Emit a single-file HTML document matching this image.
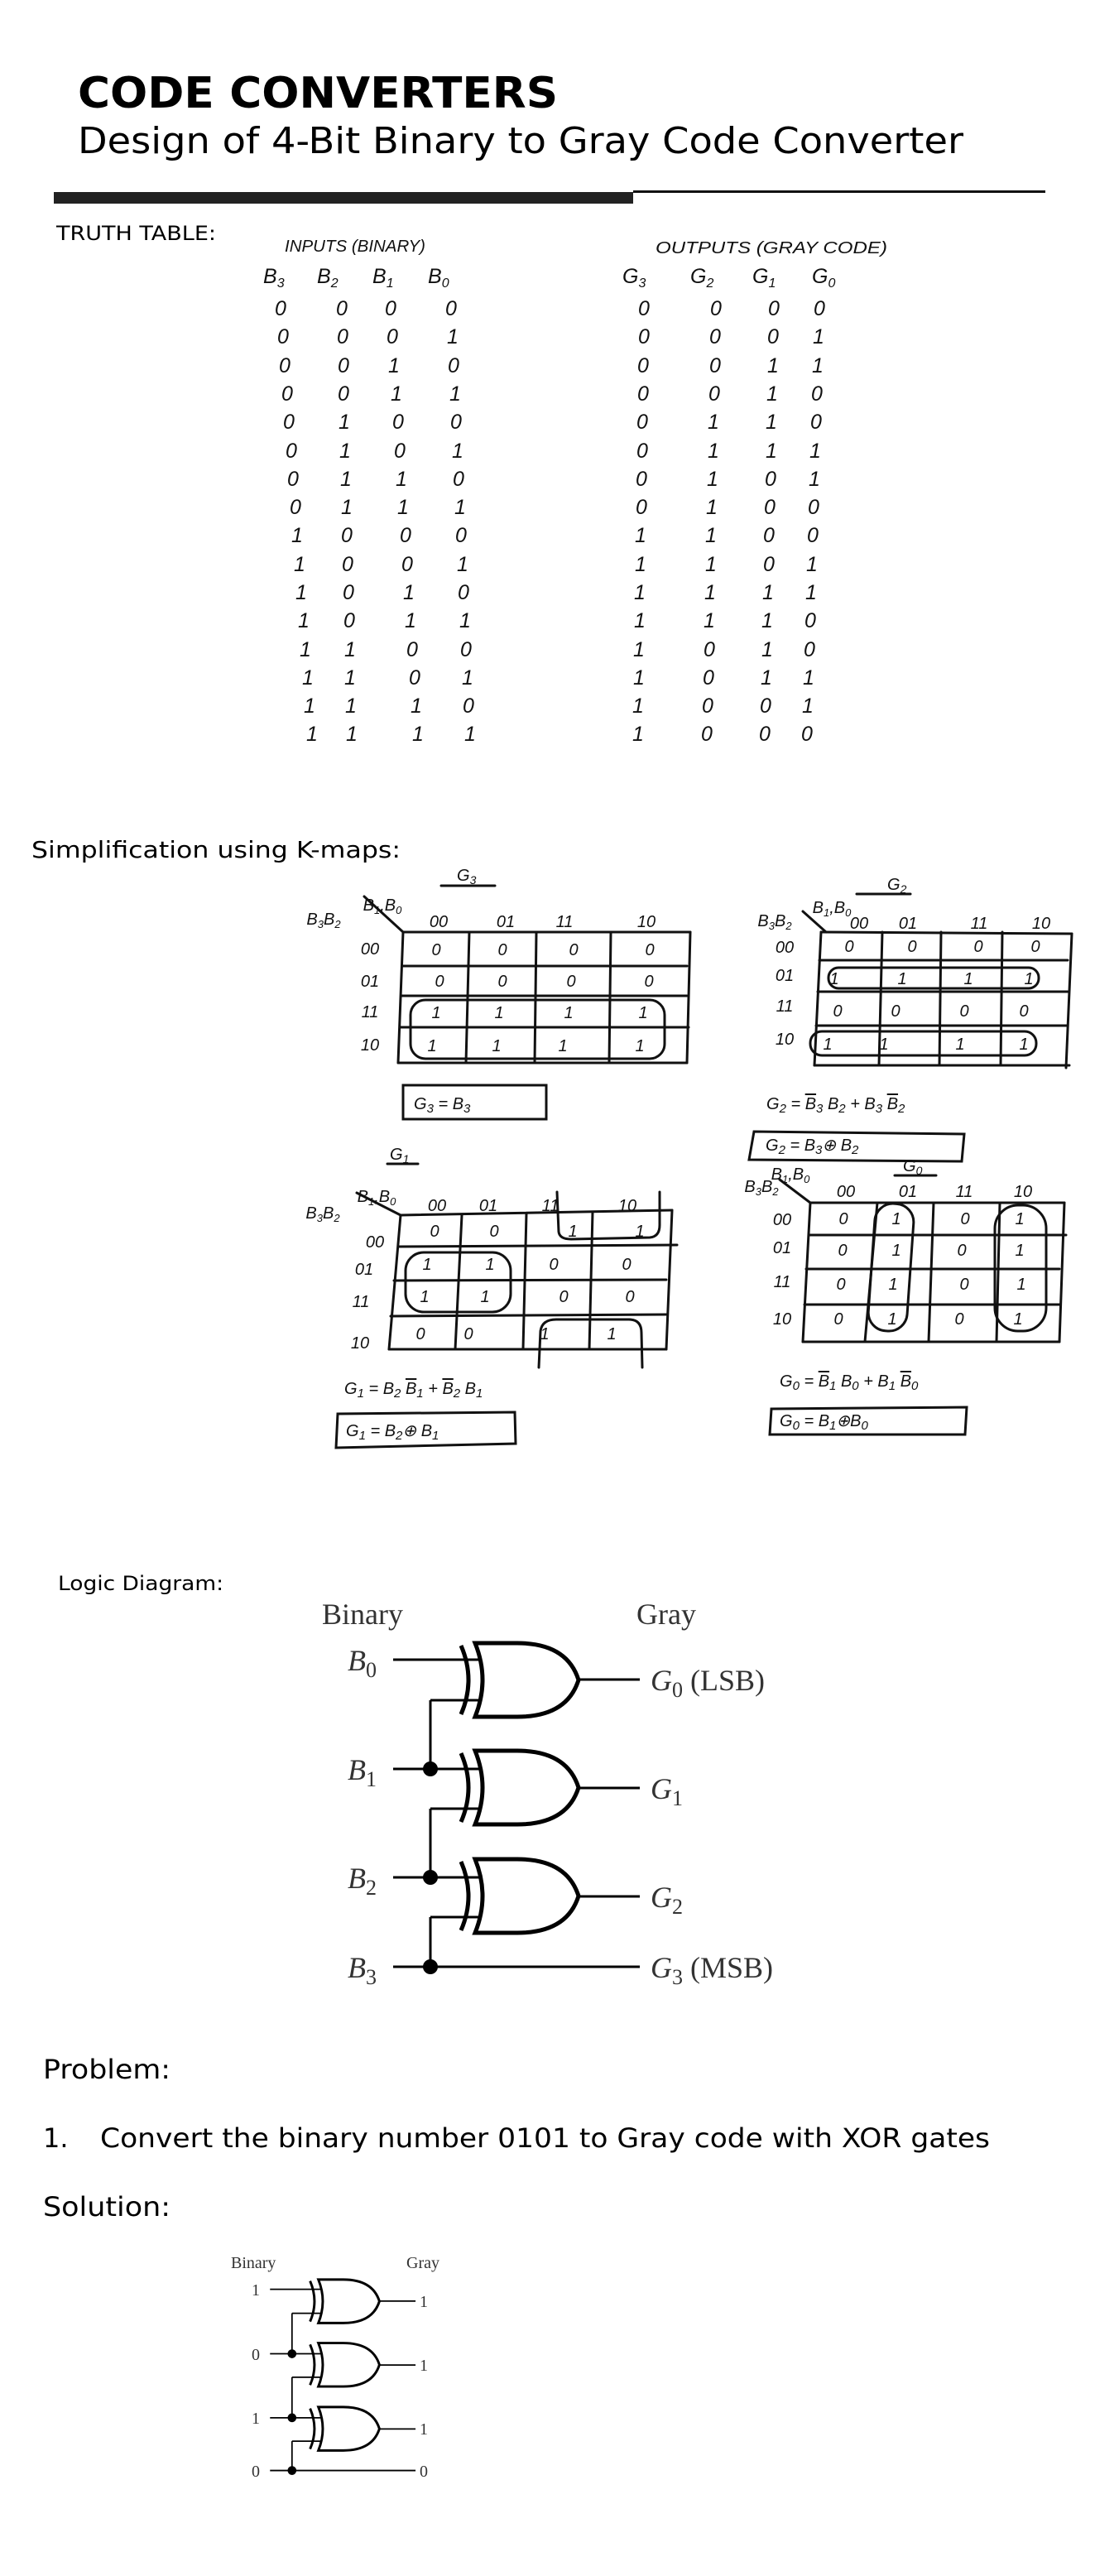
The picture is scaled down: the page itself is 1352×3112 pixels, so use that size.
<!DOCTYPE html>
<html><head><meta charset="utf-8"><style>
html,body{margin:0;padding:0;background:#fff}
svg{display:block}
.s{font-family:"DejaVu Sans","Liberation Sans",sans-serif;fill:#000}
.h{font-family:"Liberation Sans",sans-serif;font-style:italic;fill:#111;font-size:25px}
.hs{font-family:"Liberation Sans",sans-serif;font-style:italic;fill:#111;font-size:20px}
.t{font-family:"Liberation Serif",serif;fill:#333}
.ti{font-family:"Liberation Serif",serif;font-style:italic;fill:#333}
.g line,.g path,.g rect{stroke:#111;fill:none;stroke-width:3;stroke-linecap:round}
</style></head><body>
<svg width="1352" height="3112" viewBox="0 0 1352 3112" xmlns="http://www.w3.org/2000/svg">
<!-- Header -->
<text class="s" x="94" y="130" font-size="52" font-weight="bold" textLength="580" lengthAdjust="spacingAndGlyphs">CODE CONVERTERS</text>
<text class="s" x="94" y="185" font-size="44" textLength="1070" lengthAdjust="spacingAndGlyphs">Design of 4-Bit Binary to Gray Code Converter</text>
<rect x="65" y="232" width="700" height="14" fill="#222"/>
<rect x="765" y="230" width="498" height="3" fill="#111"/>
<text class="s" x="68" y="290" font-size="24" textLength="193" lengthAdjust="spacingAndGlyphs">TRUTH TABLE:</text>

<!-- Truth table -->
<text class="hs" x="344" y="304" textLength="170" lengthAdjust="spacingAndGlyphs">INPUTS (BINARY)</text>
<text class="hs" x="792" y="306" textLength="280" lengthAdjust="spacingAndGlyphs">OUTPUTS (GRAY CODE)</text>
<text class="h" x="318" y="342">B<tspan font-size="16" dy="5">3</tspan></text>
<text class="h" x="383" y="342">B<tspan font-size="16" dy="5">2</tspan></text>
<text class="h" x="450" y="342">B<tspan font-size="16" dy="5">1</tspan></text>
<text class="h" x="517" y="342">B<tspan font-size="16" dy="5">0</tspan></text>
<text class="h" x="752" y="342">G<tspan font-size="16" dy="5">3</tspan></text>
<text class="h" x="834" y="342">G<tspan font-size="16" dy="5">2</tspan></text>
<text class="h" x="909" y="342">G<tspan font-size="16" dy="5">1</tspan></text>
<text class="h" x="981" y="342">G<tspan font-size="16" dy="5">0</tspan></text>
<g class="h" text-anchor="middle">
<text x="339 413 472 545" y="381">0000</text><text x="778 865 935 990" y="381">0000</text>
<text x="342 414 474 547" y="415">0001</text><text x="778 864 934 989" y="415">0001</text>
<text x="344 415 476 548" y="450">0010</text><text x="777 864 934 988" y="450">0011</text>
<text x="347 415 479 550" y="484">0011</text><text x="777 863 933 987" y="484">0010</text>
<text x="349 416 481 551" y="518">0100</text><text x="776 862 932 986" y="518">0110</text>
<text x="352 417 483 553" y="553">0101</text><text x="776 862 932 985" y="553">0111</text>
<text x="354 418 485 554" y="587">0110</text><text x="775 861 931 984" y="587">0101</text>
<text x="357 419 487 556" y="621">0111</text><text x="775 860 930 983" y="621">0100</text>
<text x="359 419 490 557" y="655">1000</text><text x="774 859 929 982" y="655">1100</text>
<text x="362 420 492 559" y="690">1001</text><text x="774 859 929 981" y="690">1101</text>
<text x="364 421 494 560" y="724">1010</text><text x="773 858 928 980" y="724">1111</text>
<text x="367 422 496 562" y="758">1011</text><text x="773 857 927 979" y="758">1110</text>
<text x="369 423 498 563" y="793">1100</text><text x="772 857 927 978" y="793">1010</text>
<text x="372 423 501 565" y="827">1101</text><text x="772 856 926 977" y="827">1011</text>
<text x="374 424 503 566" y="861">1110</text><text x="771 855 925 976" y="861">1001</text>
<text x="377 425 505 568" y="895">1111</text><text x="771 854 924 975" y="895">1000</text>
</g>

<text class="s" x="38" y="1036" font-size="28" textLength="446" lengthAdjust="spacingAndGlyphs">Simplification using K-maps:</text>

<!-- K-map G3 -->
<g class="g">
<text class="hs" x="552" y="1064" stroke="none">G<tspan font-size="14" dy="4">3</tspan></text>
<line x1="533" y1="1070" x2="598" y2="1070"/>
<line x1="440" y1="1083" x2="487" y2="1126"/>
<line x1="487" y1="1126" x2="834" y2="1126"/><line x1="487" y1="1167" x2="830" y2="1167"/>
<line x1="485" y1="1203" x2="830" y2="1203"/><line x1="483" y1="1241" x2="832" y2="1241"/>
<line x1="481" y1="1284" x2="830" y2="1284"/>
<line x1="487" y1="1126" x2="481" y2="1284"/><line x1="567" y1="1126" x2="563" y2="1284"/>
<line x1="648" y1="1126" x2="646" y2="1284"/><line x1="738" y1="1126" x2="736" y2="1284"/>
<line x1="834" y1="1126" x2="830" y2="1284"/>
<rect x="496" y="1208" width="307" height="71" rx="18"/>
<rect x="487" y="1311" width="173" height="41"/>
</g>
<g class="hs" text-anchor="middle">
<text x="391" y="1117">B<tspan font-size="13" dy="4">3</tspan><tspan dy="-4">B</tspan><tspan font-size="13" dy="4">2</tspan></text>
<text x="462" y="1100">B<tspan font-size="13" dy="4">1</tspan><tspan dy="-4">,B</tspan><tspan font-size="13" dy="4">0</tspan></text>
<text x="530" y="1120">00</text><text x="611" y="1120">01</text><text x="682" y="1120">11</text><text x="781" y="1120">10</text>
<text x="447" y="1153">00</text><text x="447" y="1192">01</text><text x="447" y="1229">11</text><text x="447" y="1269">10</text>
<text x="527 607 693 785" y="1154">0000</text>
<text x="531 607 690 784" y="1192">0000</text>
<text x="527 603 687 777" y="1230">1111</text>
<text x="522 600 680 773" y="1270">1111</text>
</g>
<text class="hs" x="500" y="1340">G<tspan font-size="15" dy="4">3</tspan><tspan dy="-4"> = B</tspan><tspan font-size="15" dy="4">3</tspan></text>

<!-- K-map G2 -->
<g class="g">
<text class="hs" x="1072" y="1075" stroke="none">G<tspan font-size="14" dy="4">2</tspan></text>
<line x1="1035" y1="1080" x2="1100" y2="1080"/>
<line x1="970" y1="1101" x2="998" y2="1126"/>
<line x1="992" y1="1126" x2="1295" y2="1128"/><line x1="990" y1="1160" x2="1290" y2="1160"/>
<line x1="988" y1="1198" x2="1290" y2="1198"/><line x1="986" y1="1239" x2="1290" y2="1239"/>
<line x1="984" y1="1287" x2="1292" y2="1287"/>
<line x1="992" y1="1126" x2="984" y2="1287"/><line x1="1066" y1="1126" x2="1062" y2="1287"/>
<line x1="1137" y1="1126" x2="1135" y2="1287"/><line x1="1211" y1="1126" x2="1209" y2="1287"/>
<line x1="1295" y1="1128" x2="1288" y2="1290"/>
<rect x="1001" y="1169" width="254" height="25" rx="12"/>
<rect x="979" y="1246" width="273" height="29" rx="14"/>
<path d="M905,1401 L911,1367 L1165,1370 L1162,1403 Z"/>
</g>
<g class="hs" text-anchor="middle">
<text x="936" y="1119">B<tspan font-size="13" dy="4">3</tspan><tspan dy="-4">B</tspan><tspan font-size="13" dy="4">2</tspan></text>
<text x="1005" y="1103">B<tspan font-size="13" dy="4">1</tspan><tspan dy="-4">,B</tspan><tspan font-size="13" dy="4">0</tspan></text>
<text x="1038" y="1122">00</text><text x="1097" y="1122">01</text><text x="1183" y="1122">11</text><text x="1258" y="1122">10</text>
<text x="948" y="1151">00</text><text x="948" y="1185">01</text><text x="948" y="1222">11</text><text x="948" y="1262">10</text>
<text x="1026 1102 1182 1251" y="1150">0000</text>
<text x="1008 1090 1170 1243" y="1189">1111</text>
<text x="1012 1082 1165 1237" y="1228">0000</text>
<text x="1000 1068 1160 1237" y="1268">1111</text>
</g>
<text class="hs" x="926" y="1340">G<tspan font-size="15" dy="4">2</tspan><tspan dy="-4"> = </tspan><tspan text-decoration="overline">B</tspan><tspan font-size="15" dy="4">3</tspan><tspan dy="-4"> B</tspan><tspan font-size="15" dy="4">2</tspan><tspan dy="-4"> + B</tspan><tspan font-size="15" dy="4">3</tspan><tspan dy="-4"> </tspan><tspan text-decoration="overline">B</tspan><tspan font-size="15" dy="4">2</tspan></text>
<text class="hs" x="925" y="1390">G<tspan font-size="15" dy="4">2</tspan><tspan dy="-4"> =    B</tspan><tspan font-size="15" dy="4">3</tspan><tspan dy="-4">⊕ B</tspan><tspan font-size="15" dy="4">2</tspan></text>

<!-- K-map G1 -->
<g class="g">
<text class="hs" x="471" y="1401" stroke="none">G<tspan font-size="14" dy="4">1</tspan></text>
<line x1="468" y1="1406" x2="505" y2="1406"/>
<line x1="431" y1="1441" x2="484" y2="1468"/>
<line x1="484" y1="1468" x2="812" y2="1462"/><line x1="482" y1="1506" x2="818" y2="1504"/>
<line x1="476" y1="1547" x2="805" y2="1546"/><line x1="472" y1="1590" x2="805" y2="1588"/>
<line x1="470" y1="1630" x2="805" y2="1630"/>
<line x1="484" y1="1468" x2="470" y2="1630"/><line x1="558" y1="1468" x2="550" y2="1630"/>
<line x1="636" y1="1466" x2="632" y2="1630"/><line x1="716" y1="1464" x2="712" y2="1630"/>
<line x1="812" y1="1462" x2="805" y2="1630"/>
<rect x="490" y="1513" width="127" height="72" rx="22"/>
<path d="M673,1440 L675,1488 Q676,1497 690,1497 L785,1495 Q797,1494 797,1480 L797,1440"/>
<path d="M651,1652 L653,1608 Q655,1594 672,1594 L760,1594 Q775,1594 775,1610 L776,1652"/>
<path d="M406,1749 L408,1708 L622,1706 L623,1744 Z"/>
</g>
<g class="hs" text-anchor="middle">
<text x="390" y="1472">B<tspan font-size="13" dy="4">3</tspan><tspan dy="-4">B</tspan><tspan font-size="13" dy="4">2</tspan></text>
<text x="455" y="1452">B<tspan font-size="13" dy="4">1</tspan><tspan dy="-4">,B</tspan><tspan font-size="13" dy="4">0</tspan></text>
<text x="528" y="1463">00</text><text x="590" y="1463">01</text><text x="665" y="1463">11</text><text x="758" y="1463">10</text>
<text x="453" y="1507">00</text><text x="440" y="1540">01</text><text x="436" y="1579">11</text><text x="435" y="1629">10</text>
<text x="525 597 692 773" y="1494">0011</text>
<text x="516 592 669 757" y="1534">1100</text>
<text x="513 586 681 761" y="1573">1100</text>
<text x="508 566 658 739" y="1618">0011</text>
</g>
<text class="hs" x="416" y="1684">G<tspan font-size="15" dy="4">1</tspan><tspan dy="-4"> = B</tspan><tspan font-size="15" dy="4">2</tspan><tspan dy="-4"> </tspan><tspan text-decoration="overline">B</tspan><tspan font-size="15" dy="4">1</tspan><tspan dy="-4"> + </tspan><tspan text-decoration="overline">B</tspan><tspan font-size="15" dy="4">2</tspan><tspan dy="-4"> B</tspan><tspan font-size="15" dy="4">1</tspan></text>
<text class="hs" x="418" y="1735">G<tspan font-size="15" dy="4">1</tspan><tspan dy="-4"> =  B</tspan><tspan font-size="15" dy="4">2</tspan><tspan dy="-4">⊕ B</tspan><tspan font-size="15" dy="4">1</tspan></text>

<!-- K-map G0 -->
<g class="g">
<text class="hs" x="1091" y="1415" stroke="none">G<tspan font-size="14" dy="4">0</tspan></text>
<line x1="1081" y1="1420" x2="1131" y2="1420"/>
<line x1="942" y1="1425" x2="979" y2="1453"/>
<line x1="979" y1="1453" x2="1286" y2="1453"/><line x1="977" y1="1492" x2="1288" y2="1492"/>
<line x1="974" y1="1533" x2="1280" y2="1533"/><line x1="972" y1="1576" x2="1280" y2="1576"/>
<line x1="970" y1="1621" x2="1280" y2="1621"/>
<line x1="979" y1="1453" x2="970" y2="1621"/><line x1="1060" y1="1453" x2="1045" y2="1621"/>
<line x1="1128" y1="1453" x2="1122" y2="1621"/><line x1="1208" y1="1453" x2="1204" y2="1621"/>
<line x1="1286" y1="1453" x2="1280" y2="1621"/>
<rect x="1053" y="1454" width="47" height="154" rx="22" transform="rotate(4 1076 1531)"/>
<rect x="1202" y="1456" width="62" height="152" rx="28"/>
<path d="M930,1733 L932,1702 L1168,1700 L1166,1733 Z"/>
</g>
<g class="hs" text-anchor="middle">
<text x="920" y="1440">B<tspan font-size="13" dy="4">3</tspan><tspan dy="-4">B</tspan><tspan font-size="13" dy="4">2</tspan></text>
<text x="955" y="1425">B<tspan font-size="13" dy="4">1</tspan><tspan dy="-4">,B</tspan><tspan font-size="13" dy="4">0</tspan></text>
<text x="1022" y="1446">00</text><text x="1097" y="1446">01</text><text x="1165" y="1446">11</text><text x="1236" y="1446">10</text>
<text x="945" y="1480">00</text><text x="945" y="1514">01</text><text x="945" y="1555">11</text><text x="945" y="1600">10</text>
<text x="1019 1083 1166 1232" y="1479">0101</text>
<text x="1018 1083 1162 1232" y="1517">0101</text>
<text x="1016 1079 1165 1234" y="1558">0101</text>
<text x="1013 1078 1159 1230" y="1600">0101</text>
</g>
<text class="hs" x="942" y="1675">G<tspan font-size="15" dy="4">0</tspan><tspan dy="-4"> =  </tspan><tspan text-decoration="overline">B</tspan><tspan font-size="15" dy="4">1</tspan><tspan dy="-4"> B</tspan><tspan font-size="15" dy="4">0</tspan><tspan dy="-4"> + B</tspan><tspan font-size="15" dy="4">1</tspan><tspan dy="-4"> </tspan><tspan text-decoration="overline">B</tspan><tspan font-size="15" dy="4">0</tspan></text>
<text class="hs" x="942" y="1723">G<tspan font-size="15" dy="4">0</tspan><tspan dy="-4"> =    B</tspan><tspan font-size="15" dy="4">1</tspan><tspan dy="-4">⊕B</tspan><tspan font-size="15" dy="4">0</tspan></text>

<!-- Logic diagram -->
<text class="s" x="70" y="1921" font-size="24" textLength="200" lengthAdjust="spacingAndGlyphs">Logic Diagram:</text>
<defs>
<g id="gate">
<path d="M574,0 L625,0 Q685,0 699,44.5 Q685,89 625,89 L574,89 Q592,44.5 574,0 Z" fill="none" stroke="#000" stroke-width="5"/>
<path d="M557,3 Q575,44.5 557,86" fill="none" stroke="#000" stroke-width="5"/>
</g>
<g id="circ">
<use href="#gate" transform="translate(0,1993)"/>
<use href="#gate" transform="translate(0,2123)"/>
<use href="#gate" transform="translate(0,2254)"/>
<g stroke="#000" stroke-width="3" fill="none">
<line x1="475" y1="2013" x2="582" y2="2013"/>
<line x1="520" y1="2062" x2="582" y2="2062"/>
<line x1="520" y1="2062" x2="520" y2="2145"/>
<line x1="475" y1="2145" x2="582" y2="2145"/>
<line x1="520" y1="2193" x2="582" y2="2193"/>
<line x1="520" y1="2193" x2="520" y2="2276"/>
<line x1="475" y1="2276" x2="582" y2="2276"/>
<line x1="520" y1="2324" x2="582" y2="2324"/>
<line x1="520" y1="2324" x2="520" y2="2384"/>
<line x1="475" y1="2384" x2="773" y2="2384"/>
<line x1="699" y1="2037" x2="773" y2="2037"/>
<line x1="699" y1="2168" x2="773" y2="2168"/>
<line x1="699" y1="2299" x2="773" y2="2299"/>
</g>
<circle cx="520" cy="2145" r="9" fill="#000"/>
<circle cx="520" cy="2276" r="9" fill="#000"/>
<circle cx="520" cy="2384" r="9" fill="#000"/>
</g>
</defs>
<g transform="translate(0,-8)">
<use href="#circ"/>
<text class="t" x="389" y="1970" font-size="36">Binary</text>
<text class="t" x="769" y="1970" font-size="36">Gray</text>
<g class="ti" font-size="36">
<text x="420" y="2026">B<tspan class="t" font-style="normal" font-size="26" dy="8">0</tspan></text>
<text x="420" y="2158">B<tspan class="t" font-style="normal" font-size="26" dy="8">1</tspan></text>
<text x="420" y="2289">B<tspan class="t" font-style="normal" font-size="26" dy="8">2</tspan></text>
<text x="420" y="2397">B<tspan class="t" font-style="normal" font-size="26" dy="8">3</tspan></text>
<text x="786" y="2050">G<tspan class="t" font-style="normal" font-size="26" dy="8">0</tspan><tspan class="t" font-style="normal" dy="-8">  (LSB)</tspan></text>
<text x="786" y="2181">G<tspan class="t" font-style="normal" font-size="26" dy="8">1</tspan></text>
<text x="786" y="2312">G<tspan class="t" font-style="normal" font-size="26" dy="8">2</tspan></text>
<text x="786" y="2397">G<tspan class="t" font-style="normal" font-size="26" dy="8">3</tspan><tspan class="t" font-style="normal" dy="-8">  (MSB)</tspan></text>
</g>
</g>

<!-- Problem -->
<text class="s" x="52" y="2511" font-size="32" textLength="154" lengthAdjust="spacingAndGlyphs">Problem:</text>
<text class="s" x="52" y="2594" font-size="32">1.</text>
<text class="s" x="121" y="2594" font-size="32" textLength="1075" lengthAdjust="spacingAndGlyphs">Convert the binary number 0101 to Gray code with XOR gates</text>
<text class="s" x="52" y="2677" font-size="32" textLength="154" lengthAdjust="spacingAndGlyphs">Solution:</text>

<!-- Small diagram -->
<g transform="translate(46,1578) scale(0.59)"><use href="#circ"/></g>
<g class="t" font-size="20" fill="#555">
<text x="279" y="2740">Binary</text>
<text x="491" y="2740">Gray</text>
<g text-anchor="middle">
<text x="309" y="2773">1</text><text x="309" y="2851">0</text><text x="309" y="2928">1</text><text x="309" y="2992">0</text>
<text x="512" y="2787">1</text><text x="512" y="2864">1</text><text x="512" y="2941">1</text><text x="512" y="2992">0</text>
</g>
</g>
</svg>
</body></html>
